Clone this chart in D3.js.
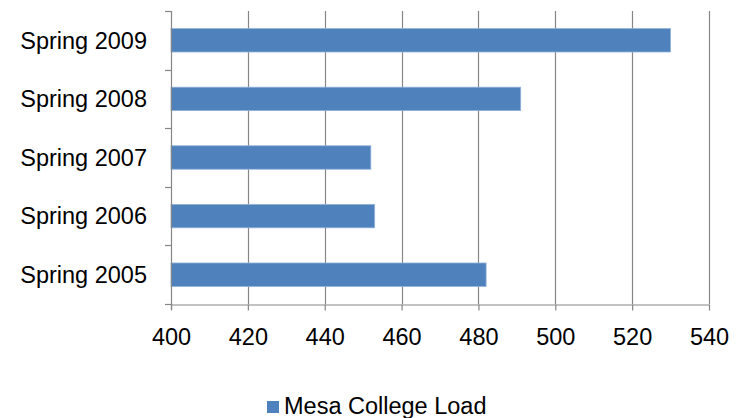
<!DOCTYPE html>
<html>
<head>
<meta charset="utf-8">
<script src="https://cdn.jsdelivr.net/npm/d3@7"></script>
<style>
  html, body { margin: 0; padding: 0; background: #fff; }
  svg { display: block; }
  text { font-family: "Liberation Sans", Arial, sans-serif; fill: #000; }
</style>
</head>
<body>
<svg id="chart" width="740" height="418"></svg>
<script>
const categories = ["Spring 2005", "Spring 2006", "Spring 2007", "Spring 2008", "Spring 2009"];
const values = [482, 453, 452, 491, 530];
const xTicks = [400, 420, 440, 460, 480, 500, 520, 540];
const seriesName = "Mesa College Load";

(function () {
const plotL = 171, plotR = 709, plotT = 11, plotB = 304;
const barColor = "#4F81BD";
const gridColor = "#868686";
const fontSize = 23.5;

const svg = d3.select("#chart");

const x = d3.scaleLinear().domain([400, 540]).range([plotL, plotR]);
const y = d3.scaleBand()
  .domain(categories.slice().reverse())
  .range([plotT, plotB])
  .paddingInner(0.6)
  .paddingOuter(0.3);

// gridlines
svg.append("g").selectAll("line")
  .data(xTicks.filter(d => d !== 400))
  .join("line")
  .attr("x1", d => Math.round(x(d)) + 0.5)
  .attr("x2", d => Math.round(x(d)) + 0.5)
  .attr("y1", plotT)
  .attr("y2", plotB)
  .attr("stroke", gridColor)
  .attr("stroke-width", 1.2);

// bars
svg.append("g").selectAll("rect")
  .data(categories.map((c, i) => ({ c, v: values[i] })))
  .join("rect")
  .attr("x", x(400))
  .attr("y", d => y(d.c))
  .attr("width", d => x(d.v) - x(400))
  .attr("height", y.bandwidth())
  .attr("fill", barColor)
  .attr("stroke", "#93B3DA")
  .attr("stroke-width", 0.8);

// x axis
const xAxis = d3.axisBottom(x).tickValues(xTicks).tickSize(6).tickSizeOuter(0).tickPadding(18);
const gx = svg.append("g").attr("transform", `translate(0,${plotB + 0.5})`).call(xAxis);
gx.select(".domain").attr("stroke", gridColor).attr("stroke-width", 1.2);
gx.selectAll(".tick line").attr("stroke", gridColor).attr("stroke-width", 1.2);
gx.selectAll(".tick text")
  .style("font-size", fontSize + "px")
  .style("font-family", '"Liberation Sans", Arial, sans-serif')
  .attr("fill", "#000");

// y axis line
svg.append("line")
  .attr("x1", plotL + 0.5).attr("x2", plotL + 0.5)
  .attr("y1", plotT).attr("y2", plotB + 6)
  .attr("stroke", gridColor).attr("stroke-width", 1.2);

// y axis boundary ticks
const boundaries = d3.range(categories.length + 1).map(i => plotT + i * (plotB - plotT) / categories.length);
svg.append("g").selectAll("line")
  .data(boundaries)
  .join("line")
  .attr("x1", plotL - 6).attr("x2", plotL)
  .attr("y1", d => Math.round(d) + 0.5).attr("y2", d => Math.round(d) + 0.5)
  .attr("stroke", gridColor).attr("stroke-width", 1.2);

// y labels
svg.append("g").selectAll("text")
  .data(categories)
  .join("text")
  .attr("x", 147)
  .attr("y", d => y(d) + y.bandwidth() / 2)
  .attr("dy", "0.35em")
  .attr("text-anchor", "end")
  .style("font-size", fontSize + "px")
  .text(d => d);

// legend
const lg = svg.append("g");
lg.append("rect")
  .attr("x", 267).attr("y", 401)
  .attr("width", 12).attr("height", 12)
  .attr("fill", barColor);
lg.append("text")
  .attr("x", 284).attr("y", 414)
  .style("font-size", fontSize + "px")
  .text(seriesName);
})();
</script>
</body>
</html>
